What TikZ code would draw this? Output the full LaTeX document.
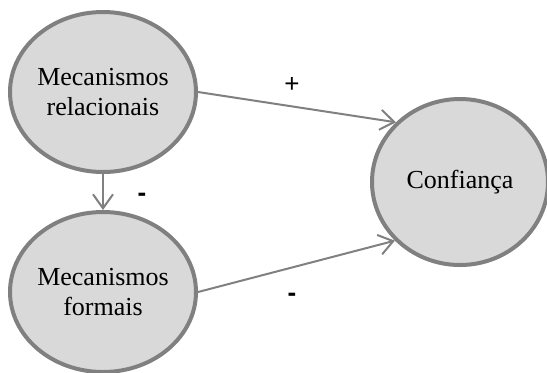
\documentclass[tikz,border=0pt]{standalone}
\usepackage{fontspec}
\setmainfont{Liberation Serif}
\newfontfamily\signfont{Liberation Sans}
\usetikzlibrary{shapes.geometric,arrows.meta}
\definecolor{edgegray}{RGB}{128,128,128}
\definecolor{fillgray}{RGB}{217,217,217}
\begin{document}
\begin{tikzpicture}[x=0.5pt,y=-0.5pt,
  construct/.style={ellipse,draw=edgegray,fill=fillgray,line width=2pt,
    align=center,inner sep=0pt,font=\fontsize{13}{15}\selectfont},
  link/.style={draw=edgegray,line width=1pt,-{Straight Barb[length=7pt,width=10pt]}},
  sign/.style={font=\signfont\fontsize{13}{15}\selectfont},
  minus/.style={font=\signfont\bfseries\fontsize{13}{15}\selectfont}]
\useasboundingbox (0,0) rectangle (547,372);
\node[construct,minimum width=93pt,minimum height=80pt] (rel) at (103,92) {Mecanismos\\relacionais};
\node[construct,minimum width=93pt,minimum height=80pt] (form) at (103,292) {Mecanismos\\formais};
\node[construct,minimum width=88pt,minimum height=83pt] (conf) at (460,182) {Confiança};
\draw[link] (rel.east) -- (conf.137);
\draw[link] (form.east) -- (conf.222);
\draw[link] (rel.south) -- (form.north);
\node[sign] (p1) at (292,85) {+};
\node[minus] (m1) at (142,197) {-};
\node[minus] (m2) at (292,297) {-};
\end{tikzpicture}
\end{document}
